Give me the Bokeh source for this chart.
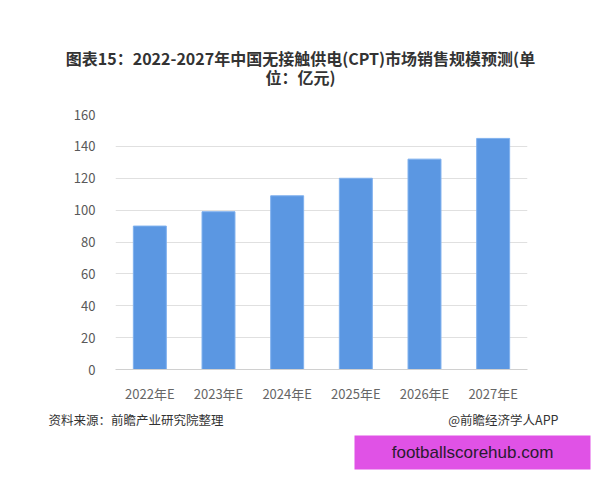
from bokeh.plotting import figure
from bokeh.layouts import column
from bokeh.models import Label, FactorRange, Range1d, ColumnDataSource, FixedTicker
from bokeh.embed import file_html
from bokeh.resources import INLINE

categories = ["2022年E", "2023年E", "2024年E", "2025年E", "2026年E", "2027年E"]
values = [90, 99, 109, 120, 132, 145]
y_ticks = [0, 20, 40, 60, 80, 100, 120, 140, 160]
title_line1 = "图表15：2022-2027年中国无接触供电(CPT)市场销售规模预测(单"
title_line2 = "位：亿元)"
source_text = "资料来源：前瞻产业研究院整理"
credit_text = "@前瞻经济学人APP"
overlay_text = "footballscorehub.com"

FONT = "Noto Sans CJK SC"
W = 600

def blank_fig(h):
    f = figure(width=W, height=h, x_range=Range1d(0, W), y_range=Range1d(0, h),
               output_backend="svg", toolbar_location=None, x_axis_type=None, y_axis_type=None,
               min_border=0, min_border_left=0, min_border_right=0, min_border_top=0, min_border_bottom=0)
    f.frame_align = False
    f.outline_line_color = None
    f.xgrid.grid_line_color = None
    f.ygrid.grid_line_color = None
    f.background_fill_color = "white"
    f.border_fill_color = "white"
    return f

def add_label(f, x, y, text, size, color="#333333", align="left", bold=False, font=FONT):
    lab = Label(x=x, y=y, x_units="screen", y_units="screen", text=text,
                text_font=font, text_font_size=size, text_color=color,
                text_align=align, text_baseline="middle",
                text_font_style="bold" if bold else "normal")
    f.add_layout(lab)

# --- title block (canvas y 0..100)
top = blank_fig(100)
add_label(top, 300, 100 - 57, title_line1, "16px", "#333333", "center", True)
add_label(top, 300, 100 - 76, title_line2, "16px", "#333333", "center", True)

# --- main chart (canvas y 100..405)
p = figure(width=W, height=305, x_range=FactorRange(*categories), y_range=Range1d(0, 160),
           output_backend="svg", toolbar_location=None,
           min_border_left=115, min_border_right=73, min_border_top=14, min_border_bottom=32)
p.frame_align = False
p.outline_line_color = None
p.background_fill_color = "white"
p.border_fill_color = "white"

src = ColumnDataSource(dict(x=categories, top=values))
p.vbar(x="x", top="top", width=0.48, source=src, fill_color="#5b97e2", line_color="#7fb0ee", line_width=1)

p.xgrid.grid_line_color = None
p.ygrid.grid_line_color = "#e0e0e0"
p.ygrid.ticker = FixedTicker(ticks=y_ticks)

p.yaxis.ticker = FixedTicker(ticks=y_ticks)
p.yaxis.axis_line_color = None
p.yaxis.major_tick_line_color = None
p.yaxis.minor_tick_line_color = None
p.yaxis.major_label_standoff = 14
p.yaxis.major_label_text_font = FONT
p.yaxis.major_label_text_font_size = "13px"
p.yaxis.major_label_text_color = "#595959"

p.xaxis.axis_line_color = "#d0d0d0"
p.xaxis.major_tick_line_color = None
p.xaxis.minor_tick_line_color = None
p.xaxis.major_label_standoff = 8
p.xaxis.major_label_text_font = FONT
p.xaxis.major_label_text_font_size = "13px"
p.xaxis.major_label_text_color = "#666666"

# --- footer (canvas y 405..480)
bot = blank_fig(75)
add_label(bot, 48, 480 - 419, source_text, "12.5px", "#333333", "left")
add_label(bot, 558, 480 - 419, credit_text, "12.5px", "#333333", "right")
bot.quad(left=[354], right=[590], bottom=[480 - 469], top=[480 - 435],
         fill_color="#e052e6", line_color=None)
add_label(bot, 472, 480 - 452, overlay_text, "17px", "#2a1a30", "center", font="Liberation Sans")

layout = column(top, p, bot, spacing=0)
open("out.html", "w").write(file_html(layout, INLINE))
